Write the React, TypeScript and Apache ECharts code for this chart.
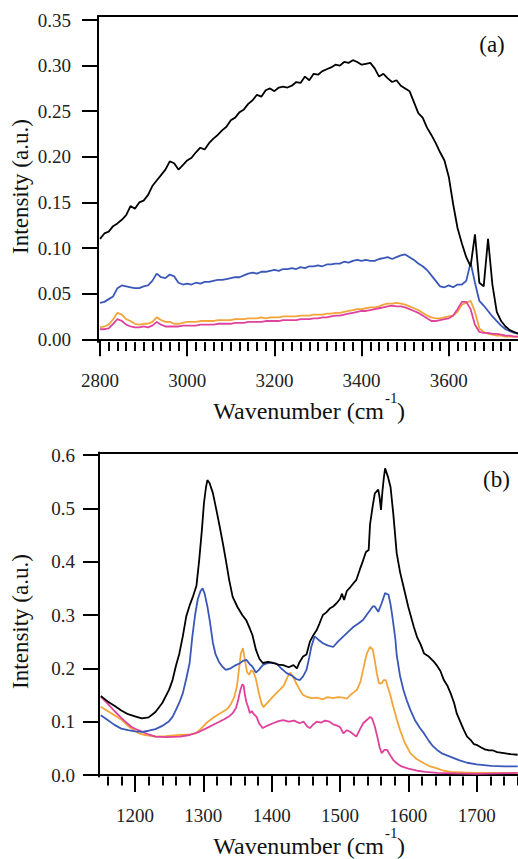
import React, { useEffect, useRef } from "react";
import * as echarts from "echarts";

// ---------- Panel (a) data ----------
const WN_A = [
  2800, 2810, 2820, 2830, 2840, 2850, 2860, 2870, 2880, 2890,
  2900, 2910, 2920, 2930, 2940, 2950, 2960, 2970, 2980, 2990,
  3000, 3010, 3020, 3030, 3040, 3050, 3060, 3070, 3080, 3090,
  3100, 3110, 3120, 3130, 3140, 3150, 3160, 3170, 3180, 3190,
  3200, 3210, 3220, 3230, 3240, 3250, 3260, 3270, 3280, 3290,
  3300, 3310, 3320, 3330, 3340, 3350, 3360, 3370, 3380, 3390,
  3400, 3410, 3420, 3430, 3440, 3450, 3460, 3470, 3480, 3490,
  3500, 3510, 3520, 3530, 3540, 3550, 3560, 3570, 3580, 3590,
  3600, 3610, 3620, 3630, 3640, 3650, 3660, 3670, 3680, 3690,
  3700, 3710, 3720, 3730, 3740, 3750, 3760,
];
const BLACK_A = [
  0.110, 0.116, 0.118, 0.124, 0.127, 0.131, 0.136, 0.146, 0.143, 0.150,
  0.152, 0.158, 0.168, 0.174, 0.180, 0.186, 0.195, 0.193, 0.186, 0.191,
  0.196, 0.199, 0.205, 0.210, 0.208, 0.215, 0.220, 0.224, 0.229, 0.233,
  0.240, 0.243, 0.249, 0.252, 0.258, 0.262, 0.268, 0.266, 0.273, 0.275,
  0.272, 0.276, 0.277, 0.276, 0.278, 0.282, 0.281, 0.288, 0.284, 0.291,
  0.290, 0.294, 0.296, 0.298, 0.301, 0.300, 0.304, 0.303, 0.306, 0.304,
  0.301, 0.302, 0.303, 0.297, 0.288, 0.291, 0.286, 0.282, 0.284, 0.278,
  0.275, 0.272, 0.260, 0.248, 0.243, 0.232, 0.224, 0.215, 0.205, 0.196,
  0.178, 0.148, 0.122, 0.105, 0.090, 0.080, 0.115, 0.062, 0.058, 0.110,
  0.060, 0.030, 0.020, 0.014, 0.010, 0.008, 0.006,
];
const BLUE_A = [
  0.040, 0.041, 0.044, 0.047, 0.056, 0.059, 0.058, 0.057, 0.056, 0.056,
  0.058, 0.059, 0.064, 0.072, 0.068, 0.067, 0.071, 0.069, 0.062, 0.060,
  0.061, 0.060, 0.062, 0.061, 0.063, 0.063, 0.064, 0.065, 0.065, 0.066,
  0.067, 0.068, 0.068, 0.070, 0.072, 0.073, 0.072, 0.074, 0.074, 0.075,
  0.076, 0.075, 0.077, 0.077, 0.078, 0.077, 0.079, 0.078, 0.080, 0.080,
  0.081, 0.080, 0.082, 0.082, 0.083, 0.083, 0.085, 0.084, 0.086, 0.087,
  0.086, 0.087, 0.086, 0.086, 0.088, 0.089, 0.090, 0.088, 0.090, 0.092,
  0.093, 0.090, 0.087, 0.083, 0.080, 0.076, 0.070, 0.064, 0.058, 0.057,
  0.059, 0.057, 0.060, 0.060, 0.064, 0.084, 0.062, 0.042, 0.037, 0.031,
  0.025, 0.020, 0.015, 0.011, 0.009, 0.007, 0.006,
];
const ORANGE_A = [
  0.013, 0.014, 0.016, 0.022, 0.029, 0.027, 0.022, 0.020, 0.017, 0.016,
  0.017, 0.017, 0.019, 0.024, 0.021, 0.019, 0.019, 0.017, 0.017, 0.018,
  0.019, 0.019, 0.019, 0.020, 0.020, 0.020, 0.020, 0.021, 0.021, 0.021,
  0.021, 0.022, 0.022, 0.022, 0.023, 0.023, 0.023, 0.024, 0.023, 0.024,
  0.024, 0.024, 0.025, 0.025, 0.025, 0.025, 0.026, 0.026, 0.026, 0.027,
  0.027, 0.027, 0.028, 0.028, 0.029, 0.029, 0.030, 0.031, 0.032, 0.033,
  0.033, 0.034, 0.035, 0.035, 0.036, 0.038, 0.039, 0.039, 0.040, 0.039,
  0.038, 0.036, 0.034, 0.032, 0.029, 0.026, 0.024, 0.023, 0.023, 0.024,
  0.025, 0.026, 0.030, 0.038, 0.040, 0.042, 0.030, 0.012, 0.008, 0.006,
  0.005, 0.004, 0.004, 0.003, 0.003, 0.003, 0.003,
];
const PINK_A = [
  0.011, 0.011, 0.012, 0.017, 0.022, 0.020, 0.016, 0.014, 0.013, 0.013,
  0.014, 0.013, 0.015, 0.019, 0.016, 0.014, 0.014, 0.014, 0.014, 0.015,
  0.015, 0.015, 0.015, 0.016, 0.016, 0.016, 0.016, 0.017, 0.017, 0.017,
  0.017, 0.018, 0.018, 0.018, 0.019, 0.019, 0.019, 0.019, 0.020, 0.020,
  0.020, 0.020, 0.021, 0.021, 0.021, 0.021, 0.022, 0.022, 0.022, 0.023,
  0.023, 0.024, 0.024, 0.025, 0.026, 0.026, 0.027, 0.028, 0.029, 0.030,
  0.031, 0.031, 0.032, 0.033, 0.034, 0.035, 0.036, 0.037, 0.036, 0.036,
  0.035, 0.033, 0.031, 0.029, 0.026, 0.023, 0.020, 0.020, 0.021, 0.022,
  0.023, 0.026, 0.033, 0.041, 0.041, 0.033, 0.016, 0.008, 0.007, 0.007,
  0.006, 0.006, 0.005, 0.004, 0.004, 0.003, 0.003,
];

// ---------- Panel (b) data: [wavenumber, intensity] ----------
const BLACK_B: [number, number][] = [
  [1150, 0.148], [1160, 0.138], [1170, 0.13], [1180, 0.121], [1190, 0.114], [1200, 0.110],
  [1210, 0.106], [1220, 0.108], [1230, 0.118], [1240, 0.135], [1250, 0.160], [1255, 0.178],
  [1260, 0.205], [1265, 0.228], [1270, 0.260], [1275, 0.297], [1280, 0.318], [1285, 0.335],
  [1290, 0.355], [1294, 0.403], [1298, 0.460], [1301, 0.510], [1304, 0.540], [1306, 0.553],
  [1309, 0.548], [1314, 0.529], [1319, 0.498], [1324, 0.466], [1329, 0.432], [1333, 0.403],
  [1338, 0.365], [1343, 0.334], [1350, 0.315], [1357, 0.300], [1363, 0.290], [1368, 0.275],
  [1372, 0.262], [1377, 0.235], [1382, 0.218], [1387, 0.210], [1395, 0.212], [1402, 0.210],
  [1410, 0.207], [1417, 0.206], [1425, 0.202], [1432, 0.206], [1437, 0.200], [1441, 0.212],
  [1446, 0.222], [1451, 0.226], [1456, 0.250], [1461, 0.262], [1466, 0.272], [1470, 0.284],
  [1475, 0.300], [1480, 0.305], [1485, 0.312], [1490, 0.316], [1495, 0.322], [1500, 0.330],
  [1503, 0.340], [1506, 0.328], [1510, 0.345], [1515, 0.352], [1520, 0.360], [1524, 0.366],
  [1529, 0.385], [1534, 0.403], [1538, 0.418], [1542, 0.422], [1544, 0.470], [1548, 0.505],
  [1551, 0.528], [1556, 0.535], [1558, 0.520], [1560, 0.497], [1562, 0.530], [1564, 0.555],
  [1566, 0.575], [1570, 0.560], [1574, 0.540], [1578, 0.490], [1583, 0.416], [1588, 0.380],
  [1593, 0.353], [1600, 0.315], [1608, 0.278], [1613, 0.258], [1618, 0.245], [1623, 0.228],
  [1630, 0.222], [1637, 0.213], [1642, 0.205], [1647, 0.195], [1652, 0.178], [1657, 0.168],
  [1662, 0.153], [1667, 0.135], [1671, 0.115], [1676, 0.100], [1681, 0.085], [1686, 0.072],
  [1691, 0.066], [1696, 0.058], [1701, 0.056], [1706, 0.052], [1712, 0.048], [1718, 0.046],
  [1724, 0.046], [1730, 0.043], [1740, 0.041], [1750, 0.039], [1760, 0.038],
];
const BLUE_B: [number, number][] = [
  [1150, 0.112], [1160, 0.103], [1170, 0.094], [1180, 0.087], [1190, 0.084], [1200, 0.082],
  [1211, 0.081], [1220, 0.083], [1230, 0.086], [1240, 0.092], [1250, 0.101], [1255, 0.109],
  [1260, 0.122], [1265, 0.136], [1270, 0.153], [1275, 0.180], [1280, 0.210], [1284, 0.260],
  [1288, 0.300], [1292, 0.330], [1296, 0.345], [1299, 0.350], [1302, 0.340], [1306, 0.316],
  [1310, 0.285], [1314, 0.248], [1318, 0.226], [1323, 0.212], [1328, 0.203], [1333, 0.197],
  [1340, 0.200], [1346, 0.205], [1353, 0.209], [1358, 0.214], [1363, 0.216], [1368, 0.208],
  [1372, 0.203], [1377, 0.192], [1382, 0.198], [1387, 0.206], [1392, 0.209], [1400, 0.211],
  [1407, 0.209], [1414, 0.200], [1422, 0.191], [1430, 0.186], [1436, 0.180], [1441, 0.178],
  [1446, 0.185], [1451, 0.197], [1455, 0.220], [1458, 0.240], [1463, 0.260], [1469, 0.253],
  [1475, 0.247], [1482, 0.243], [1490, 0.240], [1497, 0.250], [1505, 0.260], [1510, 0.266],
  [1515, 0.272], [1520, 0.278], [1527, 0.284], [1534, 0.291], [1540, 0.302], [1544, 0.309],
  [1548, 0.316], [1551, 0.316], [1556, 0.306], [1561, 0.322], [1566, 0.341], [1571, 0.338],
  [1574, 0.320], [1576, 0.303], [1579, 0.275], [1581, 0.255], [1583, 0.225], [1588, 0.185],
  [1593, 0.159], [1598, 0.139], [1603, 0.122], [1610, 0.102], [1617, 0.088], [1623, 0.078],
  [1630, 0.064], [1636, 0.054], [1642, 0.047], [1650, 0.040], [1662, 0.034], [1674, 0.028],
  [1686, 0.023], [1700, 0.020], [1721, 0.017], [1740, 0.016], [1760, 0.016],
];
const ORANGE_B: [number, number][] = [
  [1150, 0.128], [1160, 0.120], [1170, 0.112], [1181, 0.103], [1190, 0.092], [1200, 0.083],
  [1206, 0.078], [1215, 0.075], [1230, 0.072], [1245, 0.073], [1265, 0.075], [1280, 0.076],
  [1289, 0.078], [1296, 0.086], [1304, 0.097], [1312, 0.105], [1320, 0.112], [1328, 0.118],
  [1335, 0.124], [1340, 0.132], [1345, 0.145], [1349, 0.165], [1352, 0.195], [1355, 0.228],
  [1358, 0.238], [1361, 0.215], [1364, 0.193], [1367, 0.188], [1370, 0.196], [1373, 0.194],
  [1377, 0.180], [1381, 0.155], [1385, 0.135], [1388, 0.127], [1392, 0.133], [1397, 0.140],
  [1402, 0.147], [1408, 0.155], [1413, 0.161], [1418, 0.168], [1423, 0.183], [1427, 0.192],
  [1431, 0.185], [1436, 0.172], [1441, 0.160], [1446, 0.150], [1451, 0.147], [1458, 0.144],
  [1466, 0.145], [1475, 0.142], [1482, 0.146], [1490, 0.144], [1497, 0.146], [1505, 0.145],
  [1510, 0.143], [1515, 0.150], [1520, 0.155], [1525, 0.160], [1530, 0.175], [1534, 0.198],
  [1537, 0.216], [1540, 0.230], [1544, 0.240], [1548, 0.235], [1551, 0.214], [1554, 0.190],
  [1557, 0.172], [1561, 0.172], [1564, 0.178], [1567, 0.178], [1570, 0.165], [1574, 0.148],
  [1578, 0.128], [1583, 0.105], [1588, 0.084], [1595, 0.060], [1603, 0.041], [1612, 0.030],
  [1623, 0.022], [1632, 0.016], [1642, 0.0125], [1652, 0.008], [1662, 0.006], [1680, 0.005],
  [1700, 0.004], [1730, 0.004], [1760, 0.004],
];
const PINK_B: [number, number][] = [
  [1150, 0.147], [1160, 0.134], [1170, 0.120], [1180, 0.107], [1186, 0.100], [1195, 0.090],
  [1205, 0.084], [1211, 0.081], [1220, 0.076], [1230, 0.072], [1245, 0.071], [1266, 0.072],
  [1280, 0.075], [1294, 0.081], [1305, 0.088], [1319, 0.097], [1330, 0.104], [1338, 0.110],
  [1343, 0.116], [1348, 0.126], [1351, 0.140], [1354, 0.158], [1357, 0.170], [1359, 0.168],
  [1361, 0.150], [1363, 0.137], [1366, 0.126], [1368, 0.116], [1371, 0.120], [1374, 0.114],
  [1378, 0.109], [1382, 0.096], [1387, 0.088], [1393, 0.092], [1402, 0.097], [1410, 0.101],
  [1417, 0.103], [1425, 0.100], [1433, 0.102], [1441, 0.097], [1447, 0.100], [1452, 0.091],
  [1456, 0.088], [1461, 0.095], [1466, 0.100], [1472, 0.098], [1478, 0.102], [1485, 0.100],
  [1490, 0.095], [1495, 0.093], [1500, 0.090], [1505, 0.078], [1510, 0.084], [1515, 0.081],
  [1520, 0.076], [1524, 0.072], [1529, 0.085], [1534, 0.097], [1540, 0.104], [1544, 0.109],
  [1547, 0.106], [1551, 0.091], [1555, 0.070], [1558, 0.052], [1561, 0.041], [1565, 0.047],
  [1569, 0.047], [1574, 0.036], [1578, 0.028], [1583, 0.022], [1590, 0.016], [1600, 0.012],
  [1613, 0.008], [1625, 0.006], [1642, 0.004], [1670, 0.003], [1700, 0.002], [1730, 0.003],
  [1760, 0.004],
];

// ---------- Ticks ----------
const TICKS_A_X = [2800, 3000, 3200, 3400, 3600];
const TICKS_A_Y = [0, 0.05, 0.1, 0.15, 0.2, 0.25, 0.3, 0.35];
const TICKS_B_X = [1200, 1300, 1400, 1500, 1600, 1700];
const TICKS_B_Y = [0, 0.1, 0.2, 0.3, 0.4, 0.5, 0.6];
const MINOR_STEP = 20;

const COLORS = { black: "#000000", blue: "#3a58b8", orange: "#f3a53a", pink: "#df429c" };
const FONT = "'Liberation Serif', 'Times New Roman', Times, 'DejaVu Serif', serif";
const LABEL_COLOR = "#222";

function range(a: number, b: number, s: number) {
  const out: number[] = [];
  for (let v = a; v <= b + 1e-9; v += s) out.push(v);
  return out;
}

function zip(xs: number[], ys: number[]) {
  return xs.map((x, i) => [x, ys[i]]);
}

export default function App() {
  const ref = useRef<HTMLDivElement>(null);
  useEffect(() => {
    if (!ref.current) return;
    const chart = echarts.init(ref.current, undefined, { renderer: "svg" });

    const axLine = { show: true, lineStyle: { color: "#000", width: 2 } };
    const lbl = (margin: number, fmt: (v: number) => string, custom: number[]) => ({
      show: true,
      customValues: custom,
      margin,
      fontSize: 19,
      fontFamily: FONT,
      color: LABEL_COLOR,
      formatter: fmt,
    });

    const xMain = (grid: number, min: number, max: number, ticks: number[]) => ({
      type: "value",
      gridIndex: grid,
      min,
      max,
      position: "bottom",
      axisLine: axLine,
      axisTick: { show: true, customValues: ticks, length: 17, inside: false, lineStyle: { color: "#000", width: 2 } },
      axisLabel: lbl(29, (v: number) => String(v), ticks),
      splitLine: { show: false },
    });
    const xMinor = (grid: number, min: number, max: number, minor: number[]) => ({
      type: "value",
      gridIndex: grid,
      min,
      max,
      position: "bottom",
      axisLine: { show: false },
      axisTick: { show: true, customValues: minor, length: 9, inside: false, lineStyle: { color: "#000", width: 2 } },
      axisLabel: { show: false },
      splitLine: { show: false },
    });
    const xTop = (grid: number, min: number, max: number) => ({
      type: "value",
      gridIndex: grid,
      min,
      max,
      position: "top",
      axisLine: axLine,
      axisTick: { show: false },
      axisLabel: { show: false },
      splitLine: { show: false },
    });
    const yMain = (grid: number, min: number, max: number, ticks: number[], margin: number, dec: number) => ({
      type: "value",
      gridIndex: grid,
      min,
      max,
      position: "left",
      axisLine: axLine,
      axisTick: { show: true, customValues: ticks, length: 16, inside: false, lineStyle: { color: "#000", width: 2 } },
      axisLabel: lbl(margin, (v: number) => v.toFixed(dec), ticks),
      splitLine: { show: false },
    });

    const AX_MIN = 2795.4, AX_MAX = 3758.7;
    const BX_MIN = 1147.4, BX_MAX = 1760.5;

    const line = (name: string, data: any, color: string, xi: number, yi: number, z: number) => ({
      name,
      type: "line",
      data,
      xAxisIndex: xi,
      yAxisIndex: yi,
      showSymbol: false,
      symbol: "none",
      z,
      lineStyle: { color, width: 1.8 },
      itemStyle: { color },
    });

    const titleFont = { fontFamily: FONT, fill: "#111" };

    const xTitle = (cy: number) => [
      { type: "text", x: 384, y: cy, style: { text: "Wavenumber (cm", fontSize: 24, ...titleFont, align: "right", verticalAlign: "middle" } },
      { type: "text", x: 385, y: cy - 13, style: { text: "-1", fontSize: 15, ...titleFont, align: "left", verticalAlign: "middle" } },
      { type: "text", x: 397, y: cy, style: { text: ")", fontSize: 24, ...titleFont, align: "left", verticalAlign: "middle" } },
    ];

    chart.setOption({
      animation: false,
      backgroundColor: "#fff",
      grid: [
        { left: 98, top: 16, width: 420, height: 326, containLabel: false, outerBoundsMode: "none" },
        { left: 99, top: 452.5, width: 419, height: 324, containLabel: false, outerBoundsMode: "none" },
      ],
      xAxis: [
        xMain(0, AX_MIN, AX_MAX, TICKS_A_X),
        xMinor(0, AX_MIN, AX_MAX, range(2800, 3740, MINOR_STEP)),
        xTop(0, AX_MIN, AX_MAX),
        xMain(1, BX_MIN, BX_MAX, TICKS_B_X),
        xMinor(1, BX_MIN, BX_MAX, range(1160, 1760, MINOR_STEP)),
        xTop(1, BX_MIN, BX_MAX),
      ],
      yAxis: [
        yMain(0, -0.003, 0.3544, TICKS_A_Y, 27, 2),
        yMain(1, -0.0028, 0.6047, TICKS_B_Y, 24, 1),
      ],
      series: [
        line("orange-a", zip(WN_A, ORANGE_A), COLORS.orange, 0, 0, 2),
        line("pink-a", zip(WN_A, PINK_A), COLORS.pink, 0, 0, 3),
        line("blue-a", zip(WN_A, BLUE_A), COLORS.blue, 0, 0, 4),
        line("black-a", zip(WN_A, BLACK_A), COLORS.black, 0, 0, 5),
        line("orange-b", ORANGE_B, COLORS.orange, 3, 1, 2),
        line("pink-b", PINK_B, COLORS.pink, 3, 1, 3),
        line("blue-b", BLUE_B, COLORS.blue, 3, 1, 4),
        line("black-b", BLACK_B, COLORS.black, 3, 1, 5),
      ],
      graphic: [
        { type: "text", x: 20, y: 186.5, rotation: Math.PI / 2, style: { text: "Intensity (a.u.)", fontSize: 23, ...titleFont, align: "center", verticalAlign: "middle" } },
        { type: "text", x: 20, y: 621.5, rotation: Math.PI / 2, style: { text: "Intensity (a.u.)", fontSize: 23, ...titleFont, align: "center", verticalAlign: "middle" } },
        ...xTitle(410.5),
        ...xTitle(845.5),
        { type: "text", x: 492, y: 44, style: { text: "(a)", fontSize: 23, ...titleFont, align: "center", verticalAlign: "middle" } },
        { type: "text", x: 496.5, y: 479, style: { text: "(b)", fontSize: 23, ...titleFont, align: "center", verticalAlign: "middle" } },
      ],
    });
    return () => chart.dispose();
  }, []);

  return (
    <div
      ref={ref}
      style={{ position: "fixed", left: 0, top: 0, width: 518, height: 859, background: "#fff" }}
    />
  );
}
